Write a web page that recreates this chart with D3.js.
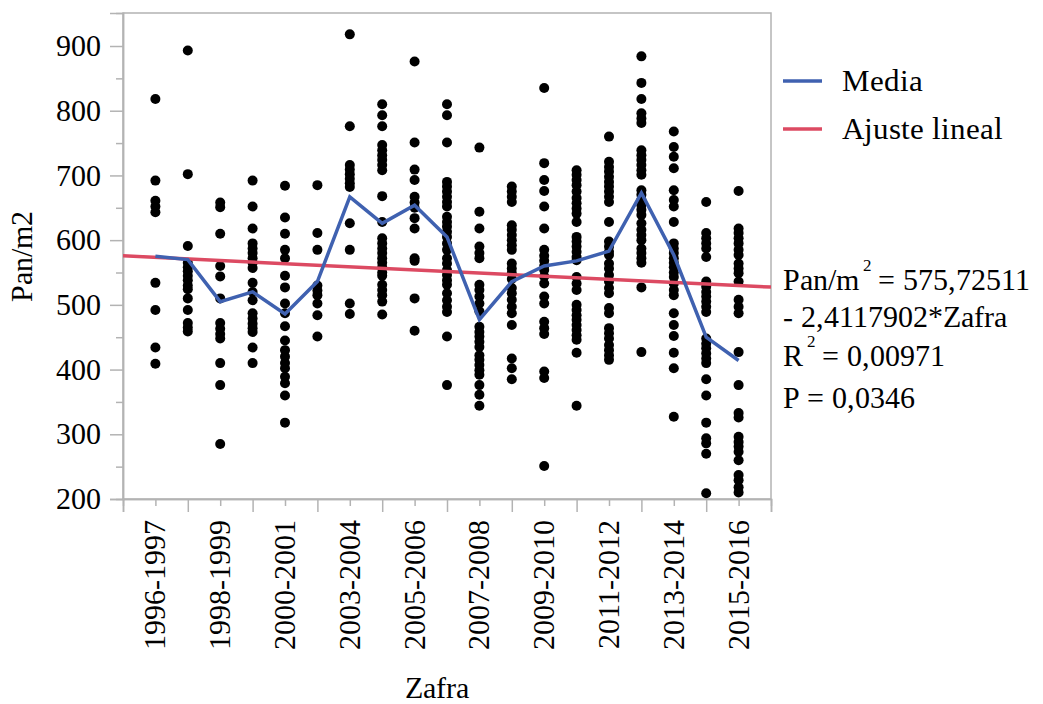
<!DOCTYPE html>
<html>
<head>
<meta charset="utf-8">
<script src="https://cdn.jsdelivr.net/npm/d3@7"></script>
<style>
    @font-face { font-family: "ChartSerif"; src: local("Liberation Serif"), local("LiberationSerif"), local("Liberation Serif Regular"), local("Times New Roman"); }
    body { margin: 0; background: #fff; }
</style>
</head>
<body>
<div class="zafra-fig"></div>
<script>
// seasons (Zafra) on the x axis
var seasons = ["1996-1997", "1997-1998", "1998-1999", "1999-2000", "2000-2001",
    "2002-2003", "2003-2004", "2004-2005", "2005-2006", "2006-2007", "2007-2008",
    "2008-2009", "2009-2010", "2010-2011", "2011-2012", "2012-2013", "2013-2014",
    "2014-2015", "2015-2016"];

var panValues = [
    [818, 692, 661, 652, 643, 534, 492, 434, 409],
    [893, 702, 591, 565, 558, 552, 545, 538, 530, 524, 510, 492, 472, 465, 459],
    [658, 651, 610, 560, 544, 510, 472, 463, 455, 448, 410, 376, 285],
    [692, 652, 618, 595, 587, 580, 572, 565, 557, 534, 520, 507, 487, 479, 471, 464, 458, 434, 410],
    [684, 635, 610, 585, 572, 545, 527, 502, 487, 467, 445, 430, 420, 410, 402, 389, 379, 360, 318],
    [685, 611, 585, 530, 522, 515, 502, 484, 451],
    [918, 776, 716, 709, 702, 695, 688, 682, 626, 585, 502, 486],
    [810, 793, 776, 747, 739, 731, 724, 716, 708, 668, 628, 603, 595, 587, 580, 572, 565, 558, 550, 545, 531, 523, 515, 505, 485],
    [876, 751, 709, 693, 667, 658, 650, 634, 618, 572, 568, 510, 460],
    [810, 793, 751, 690, 683, 675, 667, 659, 652, 636, 628, 621, 613, 605, 595, 585, 572, 564, 554, 546, 538, 531, 518, 507, 497, 489, 451, 376],
    [743, 644, 618, 590, 580, 572, 531, 523, 513, 502, 490, 466, 458, 451, 443, 435, 422, 415, 407, 399, 392, 376, 361, 344],
    [683, 675, 667, 659, 623, 616, 608, 600, 592, 585, 564, 556, 549, 540, 526, 518, 508, 497, 487, 469, 417, 402, 385],
    [835, 719, 693, 676, 652, 618, 585, 576, 568, 560, 554, 544, 533, 513, 502, 474, 464, 455, 397, 387, 251],
    [708, 701, 693, 685, 675, 665, 657, 649, 641, 628, 605, 598, 590, 582, 574, 569, 543, 533, 523, 500, 492, 484, 477, 469, 461, 453, 446, 426, 344],
    [760, 721, 713, 706, 698, 690, 683, 675, 667, 659, 628, 598, 590, 582, 577, 564, 556, 546, 536, 526, 518, 495, 487, 464, 456, 448, 438, 430, 422, 415],
    [884, 843, 818, 796, 788, 781, 739, 731, 724, 716, 708, 701, 677, 670, 662, 654, 647, 639, 626, 616, 608, 600, 587, 580, 572, 565, 527, 427],
    [768, 744, 729, 711, 677, 662, 652, 628, 595, 587, 580, 572, 565, 558, 550, 543, 533, 523, 515, 487, 469, 452, 426, 402, 327],
    [659, 611, 603, 595, 587, 574, 536, 528, 520, 513, 505, 497, 489, 448, 440, 433, 425, 417, 410, 385, 360, 318, 294, 286, 270, 209],
    [676, 618, 611, 603, 595, 585, 577, 564, 556, 549, 536, 508, 497, 487, 427, 376, 333, 326, 296, 288, 281, 273, 260, 237, 229, 218, 210]
];

// season means (Media line)
var means = [575, 570, 505, 520, 486, 536, 667, 626, 654, 605, 477, 536, 560, 568, 583, 673, 577, 450, 414];

// linear fit as printed on the chart: Pan/m2 = a - b*Zafra
var fitIntercept = 575.72511;
var fitSlope = -2.4117902;

var yMajorTicks = [200, 300, 400, 500, 600, 700, 800, 900];
var yMinorTicks = [250, 350, 450, 550, 650, 750, 850];

var legendItems = ["Media", "Ajuste lineal"];
var statLines = ["- 2,4117902*Zafra", "= 0,00971", "P = 0,0346"];

(function () {
    var width = 1043, height = 704;
    var plot = { left: 123, right: 771, top: 13, bottom: 499 };
    var blue = "#3f61b0", red = "#dc4a62", grey = "#b3b3b3";
    var family = "ChartSerif, 'Liberation Serif', 'Times New Roman', Tinos, serif";

    // serif font first, then size, the same way for every text
    function serif(sel, size) {
        return sel.attr("font-family", family)
            .style("font-family", family)
            .style("font-size", size + "px")
            .attr("fill", "#000");
    }

    var svg = d3.select(".zafra-fig").append("svg")
        .attr("width", width)
        .attr("height", height)
        .attr("font-family", family);

    // x runs on the season index, with one empty slot on each side
    var x = d3.scaleLinear().domain([-1, seasons.length]).range([plot.left, plot.right]);
    var y = d3.scaleLinear().domain([200, 951]).range([plot.bottom, plot.top]);

    svg.append("clipPath").attr("id", "plotclip")
        .append("rect")
        .attr("x", plot.left).attr("y", plot.top)
        .attr("width", plot.right - plot.left)
        .attr("height", plot.bottom - plot.top);

    // plot frame
    svg.append("rect")
        .attr("x", plot.left).attr("y", plot.top)
        .attr("width", plot.right - plot.left)
        .attr("height", plot.bottom - plot.top)
        .attr("fill", "none")
        .attr("stroke", grey)
        .attr("stroke-width", 1.5);

    // y axis ticks, major and minor, labels drawn by hand below
    svg.append("g")
        .attr("transform", "translate(" + plot.left + ",0)")
        .call(d3.axisLeft(y).tickValues(yMajorTicks).tickSize(13).tickFormat(""));
    svg.append("g")
        .attr("transform", "translate(" + plot.left + ",0)")
        .call(d3.axisLeft(y).tickValues(yMinorTicks).tickSize(7).tickFormat(""));

    // x axis: labelled seasons every other slot, long ticks between
    var labelled = d3.range(0, seasons.length, 2);
    var between = d3.range(-1, seasons.length + 1, 2);

    svg.append("g")
        .attr("transform", "translate(0," + plot.bottom + ")")
        .call(d3.axisBottom(x).tickValues(labelled).tickSize(7).tickFormat(""));
    svg.append("g")
        .attr("transform", "translate(0," + plot.bottom + ")")
        .call(d3.axisBottom(x).tickValues(between).tickSize(13).tickFormat(""));

    svg.selectAll(".domain").attr("stroke", grey).attr("stroke-width", 1.5);
    svg.selectAll(".tick line").attr("stroke", grey).attr("stroke-width", 1.5);

    // tick labels
    var labels = svg.append("g");
    labels.selectAll(".ylab")
        .data(yMajorTicks)
        .enter().append("text")
        .attr("class", "ylab")
        .call(serif, 30)
        .attr("x", plot.left - 22)
        .attr("y", function (d) { return y(d); })
        .attr("dy", "0.34em")
        .attr("text-anchor", "end")
        .text(function (d) { return d; });

    labels.selectAll(".xlab")
        .data(labelled)
        .enter().append("text")
        .attr("class", "xlab")
        .call(serif, 30)
        .attr("text-anchor", "end")
        .attr("transform", function (i) {
            return "translate(" + x(i) + "," + (plot.bottom + 21) + ") rotate(-90)";
        })
        .attr("dy", "0.33em")
        .text(function (i) { return seasons[i]; });

    // axis titles
    svg.append("text")
        .call(serif, 30)
        .attr("transform", "translate(32,256) rotate(-90)")
        .attr("text-anchor", "middle")
        .text("Pan/m2");

    svg.append("text")
        .call(serif, 30)
        .attr("x", 437).attr("y", 698)
        .attr("text-anchor", "middle")
        .text("Zafra");

    var inner = svg.append("g").attr("clip-path", "url(#plotclip)");

    // observations
    var pts = [];
    panValues.forEach(function (vals, i) {
        vals.forEach(function (v) { pts.push({ i: i, v: v }); });
    });
    inner.selectAll("circle")
        .data(pts)
        .enter().append("circle")
        .attr("cx", function (d) { return x(d.i); })
        .attr("cy", function (d) { return y(d.v); })
        .attr("r", 5)
        .attr("fill", "#000");

    // linear fit, Zafra = index + 1 across the full width
    var fit = d3.line()
        .x(function (z) { return x(z - 1); })
        .y(function (z) { return y(fitIntercept + fitSlope * z); });
    inner.append("path")
        .datum([0, seasons.length + 1])
        .attr("d", fit)
        .attr("fill", "none")
        .attr("stroke", red)
        .attr("stroke-width", 3.5);

    // mean line
    var meanLine = d3.line()
        .x(function (d, i) { return x(i); })
        .y(function (d) { return y(d); });
    inner.append("path")
        .datum(means)
        .attr("d", meanLine)
        .attr("fill", "none")
        .attr("stroke", blue)
        .attr("stroke-width", 3.5);

    // legend
    var legendColors = [blue, red];
    var legend = svg.append("g");
    legendItems.forEach(function (name, k) {
        var ly = 81 + k * 48;
        legend.append("line")
            .attr("x1", 783).attr("x2", 822)
            .attr("y1", ly).attr("y2", ly)
            .attr("stroke", legendColors[k])
            .attr("stroke-width", 3.5);
        legend.append("text")
            .call(serif, 31)
            .attr("x", 842).attr("y", ly + 10)
            .text(name);
    });

    // fit statistics
    var stats = svg.append("g");
    var eq = stats.append("text").call(serif, 30).attr("x", 783).attr("y", 290);
    eq.append("tspan").text("Pan/m");
    eq.append("tspan").attr("dx", 4).attr("dy", -19).style("font-size", "17px").text("2");
    eq.append("tspan").attr("dx", 6).attr("dy", 19).text("= 575,72511");

    stats.append("text").call(serif, 30).attr("x", 783).attr("y", 327).text(statLines[0]);

    var r2 = stats.append("text").call(serif, 30).attr("x", 783).attr("y", 366);
    r2.append("tspan").text("R");
    r2.append("tspan").attr("dx", 4).attr("dy", -19).style("font-size", "17px").text("2");
    r2.append("tspan").attr("dx", 6).attr("dy", 19).text(statLines[1]);

    stats.append("text").call(serif, 30).attr("x", 783).attr("y", 408).text(statLines[2]);
}());
</script>
</body>
</html>
